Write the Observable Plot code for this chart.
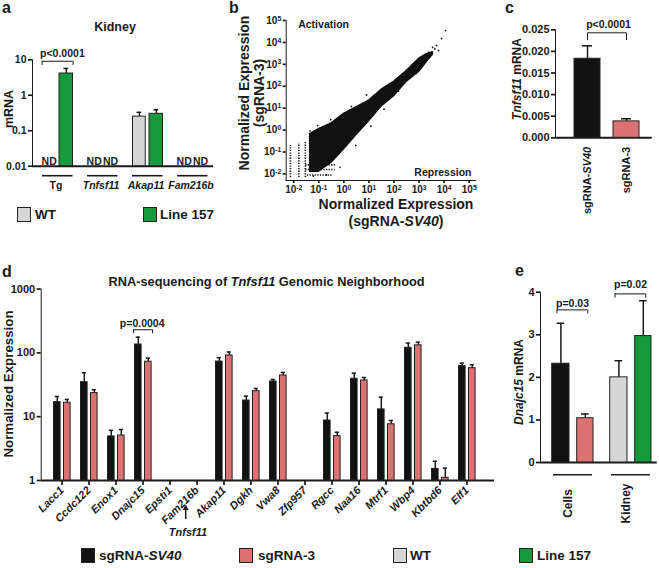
<!DOCTYPE html>
<html><head><meta charset="utf-8">
<script src="https://cdn.jsdelivr.net/npm/d3@7"></script>
<script src="https://cdn.jsdelivr.net/npm/@observablehq/plot@0.6"></script>
<style>
html,body{margin:0;padding:0;background:#fff;}
#fig{position:relative;width:659px;height:568px;overflow:hidden;font-family:"Liberation Sans",Arial,Helvetica,sans-serif;font-weight:bold;color:#1a1a1a;}
.t{position:absolute;white-space:nowrap;line-height:1;}
.sw{position:absolute;width:14px;height:15px;box-sizing:border-box;border:1.3px solid #222;}
#fig svg [aria-label*="axis"] line, #fig svg [aria-label*="axis"] path{stroke-width:1.7px;stroke:#1a1a1a;}
</style>
</head><body><div id="fig"></div>
<script>
// ---------------- data ----------------
// panel a
const aGroups = ["Tg", "Tnfsf11", "Akap11", "Fam216b"];
const aWT = [null, null, 0.25, null];
const aWTErr = [null, null, 0.33, null];
const aL157 = [4.1, null, 0.30, null];
const aL157Err = [5.7, null, 0.39, null];
const aTicks = [0.01, 0.1, 1, 10];

// panel b (density envelope of the scatter cloud + sparse points)
const bBandX  = [0.045, 0.1, 0.32, 1, 3.2, 10, 32, 100, 320, 1000, 2000, 3600];
const bBandLo = [0.0126, 0.0126, 0.032, 0.13, 0.6, 2.5, 12, 35, 160, 450, 1250, 2800];
const bBandHi = [0.65, 1.1, 2.0, 5.5, 11, 22, 70, 160, 500, 1800, 2900, 3600];
const bDotX = [2400, 3470, 5000, 6000, 7900, 11500, 4300, 0.045, 0.09, 0.3, 2, 8, 0.7, 3, 12, 40, 150, 400, 0.06, 0.2];
const bDotY = [3470, 5900, 7200, 4270, 15100, 34700, 5000, 0.9, 1.6, 3, 12, 40, 0.02, 0.2, 1.5, 9, 60, 250, 0.008, 0.009];
const bColX = [0.0074, 0.016, 0.029];
const bColTop = [0.2, 0.25, 0.3];
const bRowY = [0.0089, 0.016, 0.026];
const bRowX1 = [0.035, 0.03, 0.03];
const bRowX2 = [0.35, 0.45, 0.5];
const bTicks = [1e-2, 1e-1, 1, 1e1, 1e2, 1e3, 1e4, 1e5];

// panel c
const cGroups = ["sgRNA-SV40", "sgRNA-3"];
const cMean = [0.0183, 0.0038];
const cErr = [0.0213, 0.0044];
const cTicks = [0, 0.005, 0.010, 0.015, 0.020, 0.025];

// panel d
const dGenes = ["Lacc1","Ccdc122","Enox1","Dnajc15","Epsti1","Fam216b","Akap11","Dgkh","Vwa8","Zfp957","Rgcc","Naa16","Mtrf1","Wbp4","Kbtbd6","Elf1"];
const dSV40    = [16.9, 34.7, 4.9, 135, null, null, 73, 17.9, 35.6, null, 8.7, 39.3, 13, 120, 1.52, 62];
const dSV40Err = [20.7, 48.8, 6.1, 176, null, null, 84, 21, 38.3, null, 11.4, 48, 20.2, 142, 2.0, 69];
const dSg3     = [16.5, 23.4, 5.07, 72.5, null, null, 91, 25.1, 44.2, null, 4.95, 36.9, 7.6, 131, 1.1, 57.5];
const dSg3Err  = [18.6, 26.4, 6.3, 82.6, null, null, 103, 27.7, 49.3, null, 5.7, 41.1, 8.7, 147, 1.56, 65];
const dTicks = [1, 10, 100, 1000];

// panel e
const eGroups = ["Cells", "Kidney"];
const eLeft = [2.32, 2.0];
const eLeftErr = [3.27, 2.39];
const eRight = [1.04, 2.97];
const eRightErr = [1.14, 3.8];
const eTicks = [0, 1, 2, 3, 4];

// ---------------- styling ----------------
const fig = document.getElementById("fig");
const FONT = '"Liberation Sans", Arial, Helvetica, sans-serif';
const INK = "#1a1a1a";
const C = {black: "#121212", pink: "#db7272", gray: "#d6d6d6", green: "#16993a", edge: "#222"};
const eLeftCol = [C.black, C.gray];
const eRightCol = [C.pink, C.green];
function baseStyle(size) {
  return {fontFamily: FONT, fontSize: size + "px", fontWeight: "bold", color: INK, background: "transparent", overflow: "visible"};
}
function place(el, left, top) {
  el.style.position = "absolute"; el.style.left = left + "px"; el.style.top = top + "px";
  fig.appendChild(el); return el;
}
function txt(html, x, y, o = {}) {
  const el = document.createElement("div");
  el.className = "t";
  el.innerHTML = html;
  el.style.left = x + "px"; el.style.top = y + "px";
  el.style.fontSize = (o.size || 12) + "px";
  if (o.italic) el.style.fontStyle = "italic";
  const ax = o.anchor === "start" ? "0%" : o.anchor === "end" ? "-100%" : "-50%";
  el.style.transform = `translate(${ax}, -50%)` + (o.rotate ? ` rotate(${o.rotate}deg)` : "");
  fig.appendChild(el);
}
function swatch(x, y, color) {
  const el = document.createElement("div");
  el.className = "sw"; el.style.left = x + "px"; el.style.top = y + "px"; el.style.background = color;
  fig.appendChild(el);
}
const sup = d => "10^" + Math.round(Math.log10(d));
const K = v => () => v;

// ---------------- panel a ----------------
const aRows = aGroups.map((g, i) => ({g, wt: aWT[i], wtE: aWTErr[i], l: aL157[i], lE: aL157Err[i]}));
const aHasWT = aRows.filter(d => d.wt != null), aNoWT = aRows.filter(d => d.wt == null);
const aHasL = aRows.filter(d => d.l != null), aNoL = aRows.filter(d => d.l == null);
const aMin = aTicks[0];
const plotA = Plot.plot({
  width: 220, height: 230, marginLeft: 32, marginRight: 7, marginTop: 59.3, marginBottom: 64.3,
  style: baseStyle(10.5),
  x: {type: "band", domain: aGroups, padding: 0, tickSize: 0, tickPadding: 15, label: null},
  y: {type: "log", domain: [aMin, 10], ticks: aTicks, tickFormat: d => String(d), tickSize: 4, tickPadding: 2, label: null, line: true},
  marks: [
    Plot.ruleY([aMin], {stroke: INK, strokeWidth: 2}),
    Plot.tickY(aGroups, {x: d => d, y: K(aMin), dy: 9.5, insetLeft: 9, insetRight: 5.5, stroke: INK, strokeWidth: 1.6}),
    Plot.ruleX(aHasWT, {x: "g", y1: "wt", y2: "wtE", dx: -6.6, stroke: INK, strokeWidth: 1.5}),
    Plot.tickY(aHasWT, {x: "g", y: "wtE", insetLeft: 13.5, insetRight: 26.75, stroke: INK, strokeWidth: 1.5}),
    Plot.ruleX(aHasL, {x: "g", y1: "l", y2: "lE", dx: 10.3, stroke: INK, strokeWidth: 1.5}),
    Plot.tickY(aHasL, {x: "g", y: "lE", insetLeft: 30.4, insetRight: 9.85, stroke: INK, strokeWidth: 1.5}),
    Plot.barY(aHasWT, {x: "g", y1: K(aMin), y2: "wt", fill: C.gray, stroke: C.edge, strokeWidth: 1, insetLeft: 9.5, insetRight: 22.75}),
    Plot.barY(aHasL, {x: "g", y1: K(aMin), y2: "l", fill: C.green, stroke: C.edge, strokeWidth: 1, insetLeft: 26, insetRight: 5.5}),
    Plot.text(aNoWT, {x: "g", y: K(aMin), text: K("ND"), dx: -6.8, dy: -5, fontSize: 10.5}),
    Plot.text(aNoL, {x: "g", y: K(aMin), text: K("ND"), dx: 9.6, dy: -5, fontSize: 10.5}),
    // significance bracket
    Plot.tickY(["Tg"], {x: d => d, y: K(9.1), insetLeft: 8.7, insetRight: 5.5, stroke: INK, strokeWidth: 1}),
    Plot.ruleX(["Tg"], {x: d => d, y1: K(6.9), y2: K(9.1), dx: -13.9, stroke: INK, strokeWidth: 1}),
    Plot.ruleX(["Tg"], {x: d => d, y1: K(6.9), y2: K(9.1), dx: 17.1, stroke: INK, strokeWidth: 1}),
    Plot.text(["Tg"], {x: d => d, y: K(14.5), text: K("p<0.0001"), dx: 6.4, fontSize: 10.5})
  ]
});
place(plotA, 0, 0);

// ---------------- panel b ----------------
const bBand = bBandX.map((x, i) => ({x, lo: bBandLo[i], hi: bBandHi[i]}));
const bDots = bDotX.map((x, i) => ({x, y: bDotY[i]}));
const bCols = bColX.map((x, i) => ({x, top: bColTop[i]}));
const bRows = bRowY.map((y, i) => ({y, x1: bRowX1[i], x2: bRowX2[i]}));
const plotB = Plot.plot({
  width: 250, height: 200, marginLeft: 55.7, marginRight: 5, marginTop: 20, marginBottom: 20,
  style: baseStyle(10),
  x: {type: "log", domain: [10 ** -2.3, 10 ** 5.25], ticks: bTicks, tickFormat: sup, tickSize: 3, tickPadding: 2, label: null, line: true},
  y: {type: "log", domain: [10 ** -2.3, 1e5], ticks: bTicks, tickFormat: sup, tickSize: 3, tickPadding: 2, label: null, line: true},
  marks: [
    Plot.ruleX(bCols, {x: "x", y1: K(0.0068), y2: "top", stroke: INK, strokeWidth: 1.6, strokeDasharray: "1.3,1.3"}),
    Plot.ruleY(bRows, {y: "y", x1: "x1", x2: "x2", stroke: INK, strokeWidth: 1.6, strokeDasharray: "1.3,1.3"}),
    Plot.areaY(bBand, {x: "x", y1: "lo", y2: "hi", fill: "#111", stroke: "#111", strokeWidth: 1.5, strokeDasharray: "1.2,1"}),
    Plot.dot(bDots, {x: "x", y: "y", r: 0.9, fill: "#111"}),
    Plot.text(["Activation"], {frameAnchor: "top-left", text: d => d, dx: 12, dy: 0, fontSize: 10.5}),
    Plot.text(["Repression"], {frameAnchor: "bottom-right", text: d => d, dx: -4, dy: -5, fontSize: 10.5})
  ]
});
place(plotB, 230, 0);

// ---------------- panel c ----------------
const cRows = cGroups.map((g, i) => ({g, m: cMean[i], e: cErr[i]}));
const plotC = Plot.plot({
  width: 159, height: 230, marginLeft: 55, marginRight: 7.3, marginTop: 29.3, marginBottom: 92.7,
  style: baseStyle(11),
  color: {domain: cGroups, range: [C.black, C.pink]},
  x: {type: "band", domain: cGroups, paddingInner: 0.345, paddingOuter: 0.39, align: 0.58, tickSize: 0, tickPadding: 9, tickRotate: -90, label: null},
  y: {domain: [0, 0.025], ticks: cTicks, tickFormat: d3.format(".3f"), tickSize: 4, tickPadding: 2, label: null, line: true},
  marks: [
    Plot.ruleY([0], {stroke: INK, strokeWidth: 2}),
    Plot.ruleX(cRows, {x: "g", y1: "m", y2: "e", stroke: INK, strokeWidth: 1.5}),
    Plot.tickY(cRows, {x: "g", y: "e", insetLeft: 8, insetRight: 8, stroke: INK, strokeWidth: 1.5}),
    Plot.barY(cRows, {x: "g", y: "m", fill: "g", stroke: C.edge, strokeWidth: 1}),
    Plot.line([[cGroups[0], 0.0227], [cGroups[0], 0.0243], [cGroups[1], 0.0243], [cGroups[1], 0.0227]], {x: d => d[0], y: d => d[1], stroke: INK, strokeWidth: 1}),
    Plot.text([cGroups[0]], {x: d => d, y: K(0.0261), text: K("p<0.0001"), dx: 21, fontSize: 10.5})
  ]
});
place(plotC, 500, 0);

// ---------------- panel d ----------------
const dRows = dGenes.map((g, i) => ({g, a: dSV40[i], aE: dSV40Err[i], b: dSg3[i], bE: dSg3Err[i]}));
const dA = dRows.filter(d => d.a != null), dB = dRows.filter(d => d.b != null);
const plotD = Plot.plot({
  width: 500, height: 275, marginLeft: 40.7, marginRight: 6, marginTop: 18.5, marginBottom: 65,
  style: baseStyle(11),
  x: {type: "band", domain: dGenes, paddingInner: 0, paddingOuter: 0.153, align: 0.365, tickSize: 5, tickPadding: 3, tickRotate: -45, label: null},
  y: {type: "log", domain: [1, 1000], ticks: dTicks, tickFormat: d => String(d), tickSize: 4, tickPadding: 2, label: null, line: true},
  marks: [
    Plot.ruleY([1], {stroke: INK, strokeWidth: 2}),
    Plot.ruleX(dA, {x: "g", y1: "a", y2: "aE", dx: -4.7, stroke: INK, strokeWidth: 1.5}),
    Plot.tickY(dA, {x: "g", y: "aE", insetLeft: 6.7, insetRight: 16.1, stroke: INK, strokeWidth: 1.5}),
    Plot.ruleX(dB, {x: "g", y1: "b", y2: "bE", dx: 5.3, stroke: INK, strokeWidth: 1.5}),
    Plot.tickY(dB, {x: "g", y: "bE", insetLeft: 16.7, insetRight: 6.1, stroke: INK, strokeWidth: 1.5}),
    Plot.barY(dA, {x: "g", y1: K(1), y2: "a", fill: C.black, stroke: C.edge, strokeWidth: 1, insetLeft: 5.5, insetRight: 14.9}),
    Plot.barY(dB, {x: "g", y1: K(1), y2: "b", fill: C.pink, stroke: C.edge, strokeWidth: 1, insetLeft: 15.5, insetRight: 4.9}),
    Plot.tickY(["Dnajc15"], {x: d => d, y: K(230), insetLeft: 4.5, insetRight: 4.3, stroke: INK, strokeWidth: 1}),
    Plot.ruleX(["Dnajc15"], {x: d => d, y1: K(199), y2: K(230), dx: -9.4, stroke: INK, strokeWidth: 1}),
    Plot.ruleX(["Dnajc15"], {x: d => d, y1: K(199), y2: K(230), dx: 9.6, stroke: INK, strokeWidth: 1}),
    Plot.text(["Dnajc15"], {x: d => d, y: K(292), text: K("p=0.0004"), dx: -0.8, fontSize: 10.5})
  ]
});
place(plotD, 0, 270);

// ---------------- panel e ----------------
const eRows = eGroups.map((g, i) => ({g, l: eLeft[i], lE: eLeftErr[i], r: eRight[i], rE: eRightErr[i], lc: eLeftCol[i], rc: eRightCol[i]}));
const plotE = Plot.plot({
  width: 169, height: 260, marginLeft: 50, marginRight: 2.3, marginTop: 21.7, marginBottom: 68,
  style: baseStyle(11),
  x: {type: "band", domain: eGroups, padding: 0, axis: null},
  y: {domain: [0, 4], ticks: eTicks, tickFormat: d => String(d), tickSize: 4, tickPadding: 2, label: null, line: true},
  marks: [
    Plot.ruleY([0], {stroke: INK, strokeWidth: 2}),
    Plot.tickY(eGroups, {x: d => d, y: K(0), dy: 12.3, insetLeft: 13, insetRight: 6, stroke: INK, strokeWidth: 1.6}),
    Plot.ruleX(eRows, {x: "g", y1: "l", y2: "lE", dx: -8.6, stroke: INK, strokeWidth: 1.5}),
    Plot.tickY(eRows, {x: "g", y: "lE", insetLeft: 16.5, insetRight: 33.8, stroke: INK, strokeWidth: 1.5}),
    Plot.ruleX(eRows, {x: "g", y1: "r", y2: "rE", dx: 15.8, stroke: INK, strokeWidth: 1.5}),
    Plot.tickY(eRows, {x: "g", y: "rE", insetLeft: 41, insetRight: 9.35, stroke: INK, strokeWidth: 1.5}),
    Plot.barY(eRows, {x: "g", y: "l", fill: d => d.lc, stroke: C.edge, strokeWidth: 1, insetLeft: 11.7, insetRight: 29}),
    Plot.barY(eRows, {x: "g", y: "r", fill: d => d.rc, stroke: C.edge, strokeWidth: 1, insetLeft: 36.7, insetRight: 5}),
    Plot.text(eGroups, {x: d => d, frameAnchor: "bottom", text: d => d, rotate: -90, textAnchor: "middle", dy: 41, dx: 2.5, fontSize: 12}),
    // brackets
    Plot.tickY(eGroups, {x: d => d, y: (d, i) => [3.585, 3.96][i], insetLeft: 16.7, insetRight: 11, stroke: INK, strokeWidth: 1}),
    Plot.ruleX(eGroups, {x: d => d, y1: (d, i) => [3.49, 3.86][i], y2: (d, i) => [3.585, 3.96][i], dx: -12.5, stroke: INK, strokeWidth: 1}),
    Plot.ruleX(eGroups, {x: d => d, y1: (d, i) => [3.49, 3.86][i], y2: (d, i) => [3.585, 3.96][i], dx: 18.3, stroke: INK, strokeWidth: 1}),
    Plot.text(eGroups, {x: d => d, y: (d, i) => [3.73, 4.17][i], text: (d, i) => ["p=0.03", "p=0.02"][i], dx: 3, fontSize: 10.5})
  ]
});
place(plotE, 490, 270);

// ---------------- post-processing of tick labels ----------------
const SVGNS = "http://www.w3.org/2000/svg";
function italicize(svg, names) {
  svg.querySelectorAll("text").forEach(t => { if (names.includes(t.textContent)) t.setAttribute("font-style", "italic"); });
}
italicize(plotA, ["Tnfsf11", "Akap11", "Fam216b"]);
italicize(plotD, dGenes);
plotB.querySelectorAll("text").forEach(t => {
  const m = /^10\^(-?\d+)$/.exec(t.textContent);
  if (m) {
    t.textContent = "10";
    const ts = document.createElementNS(SVGNS, "tspan");
    ts.setAttribute("dy", "-0.45em");
    ts.setAttribute("font-size", "0.68em");
    ts.textContent = m[1];
    t.appendChild(ts);
  }
});
plotC.querySelectorAll("text").forEach(t => {
  if (t.textContent === "sgRNA-SV40") {
    t.textContent = "sgRNA-";
    const ts = document.createElementNS(SVGNS, "tspan");
    ts.setAttribute("font-style", "italic");
    ts.textContent = "SV40";
    t.appendChild(ts);
  }
});

// ---------------- text overlays ----------------
txt("a", 2, 7.5, {size: 16, anchor: "start"});
txt("b", 229, 7.5, {size: 16, anchor: "start"});
txt("c", 505, 7.8, {size: 16, anchor: "start"});
txt("d", 2, 271.5, {size: 16, anchor: "start"});
txt("e", 515, 271, {size: 16, anchor: "start"});

txt("Kidney", 115, 27.2, {size: 12.5});
txt("mRNA", 9, 109, {size: 12.5, rotate: -90});
swatch(17, 207, C.gray); txt("WT", 35, 214.5, {size: 13.5, anchor: "start"});
swatch(143, 207, C.green); txt("Line 157", 160, 214.5, {size: 13.5, anchor: "start"});

txt("Normalized Expression", 244, 93, {size: 14, rotate: -90});
txt("(sgRNA-3)", 259, 93, {size: 14, rotate: -90});
txt("Normalized Expression", 396, 204, {size: 14});
txt("(sgRNA-<i>SV40</i>)", 396, 220.5, {size: 14});

txt("<i>Tnfsf11</i> mRNA", 517, 79, {size: 12, rotate: -90});

txt("RNA-sequencing of <i>Tnfsf11</i> Genomic Neighborhood", 266.5, 281.5, {size: 12.8});
txt("Normalized Expression", 9, 383.5, {size: 13.3, rotate: -90});
txt("Tnfsf11", 188, 532, {size: 11, italic: true});
const arrow = document.createElementNS(SVGNS, "svg");
arrow.setAttribute("width", 10); arrow.setAttribute("height", 16);
arrow.innerHTML = '<line x1="4.7" y1="15" x2="4.7" y2="4" stroke="#1a1a1a" stroke-width="1.5"/><polygon points="4.7,0.5 1.8,6 7.6,6" fill="#1a1a1a"/>';
place(arrow, 181, 504);

txt("<i>Dnajc15</i> mRNA", 519, 382, {size: 12, rotate: -90});

swatch(81, 548, C.black); txt("sgRNA-<i>SV40</i>", 99, 555.5, {size: 13.5, anchor: "start"});
swatch(239, 548, C.pink); txt("sgRNA-3", 258, 555.5, {size: 13.5, anchor: "start"});
swatch(393, 548, C.gray); txt("WT", 410, 555.5, {size: 13.5, anchor: "start"});
swatch(519, 548, C.green); txt("Line 157", 537, 555.5, {size: 13.5, anchor: "start"});
</script></body></html>
